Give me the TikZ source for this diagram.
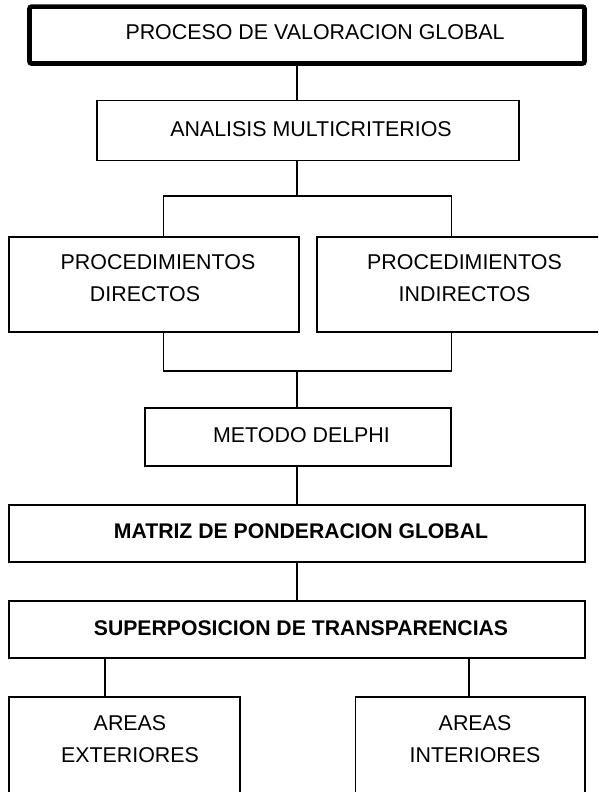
\documentclass[tikz,border=0pt]{standalone}
\usepackage{fontspec}
\setmainfont{Liberation Sans}
\begin{document}
\begin{tikzpicture}[x=1pt,y=-1pt,
  box/.style={draw,line width=1.6pt,inner sep=0pt,outer sep=0pt,rectangle},
  thickbox/.style={draw,line width=4.6pt,inner sep=0pt,outer sep=0pt,rectangle,rounded corners=2pt},
  txt/.style={inner sep=0pt,outer sep=0pt,anchor=base,align=center,font=\fontsize{21.4}{32}\selectfont},
  btxt/.style={txt,font=\fontsize{21.2}{32}\selectfont\bfseries},
  conn/.style={line width=1.6pt}]
\useasboundingbox (0,0) rectangle (598,792);
\clip (0,0) rectangle (598,792);
\fill[white] (0,0) rectangle (598,792);
% boxes
\node[thickbox,minimum width=555pt,minimum height=56.8pt] (top) at (307,35.1) {};
\node[box,minimum width=422pt,minimum height=60pt] (ana) at (308,130.5) {};
\node[box,minimum width=290pt,minimum height=95pt] (dir) at (154,284.5) {};
\node[box,minimum width=294pt,minimum height=95pt] (ind) at (464,284.5) {};
\node[box,minimum width=306pt,minimum height=58pt] (met) at (298,437) {};
\node[box,minimum width=576pt,minimum height=57pt] (mat) at (297,533.5) {};
\node[box,minimum width=576pt,minimum height=57pt] (sup) at (297,629.5) {};
\node[box,minimum width=231pt,minimum height=103pt] (ext) at (124.5,748.5) {};
\node[box,minimum width=229.5pt,minimum height=103pt] (int) at (470.25,748.5) {};
% texts (multi-line nodes: base anchor = last line's baseline)
\node[txt] (toptxt) at (315,40) {PROCESO DE VALORACION GLOBAL};
\node[txt] (anatxt) at (311,136) {ANALISIS MULTICRITERIOS};
\node[txt] (dirtxt) at (158,301) {PROCEDIMIENTOS\\\hspace*{-26pt}DIRECTOS};
\node[txt] (indtxt) at (464.5,301) {PROCEDIMIENTOS\\INDIRECTOS};
\node[txt] (mettxt) at (301.5,442) {METODO DELPHI};
\node[btxt] (mattxt) at (301,538) {MATRIZ DE PONDERACION GLOBAL};
\node[btxt] (suptxt) at (301,635) {SUPERPOSICION DE TRANSPARENCIAS};
\node[txt] (exttxt) at (130,762) {AREAS\\EXTERIORES};
\node[txt] (inttxt) at (475,762) {AREAS\\INTERIORES};
% helper coordinates
\coordinate (xm) at (297,0);
\coordinate (dl) at (163.3,196);
\coordinate (dr) at (451.3,196);
\coordinate (dm) at (297,196);
\coordinate (el) at (163.3,371);
\coordinate (er) at (451.3,371);
\coordinate (em) at (297,371);
\coordinate (xa) at (105,0);
\coordinate (xb) at (469,0);
% connectors
\draw[conn] (top.south -| xm) -- (ana.north -| xm);
\draw[conn] (ana.south -| xm) -- (dm);
\draw[conn] (dl |- dir.north) -- (dl) -- (dr) -- (dr |- ind.north);
\draw[conn] (el |- dir.south) -- (el) -- (er) -- (er |- ind.south);
\draw[conn] (em) -- (met.north -| xm);
\draw[conn] (met.south -| xm) -- (mat.north -| xm);
\draw[conn] (mat.south -| xm) -- (sup.north -| xm);
\draw[conn] (sup.south -| xa) -- (ext.north -| xa);
\draw[conn] (sup.south -| xb) -- (int.north -| xb);
\end{tikzpicture}
\end{document}
